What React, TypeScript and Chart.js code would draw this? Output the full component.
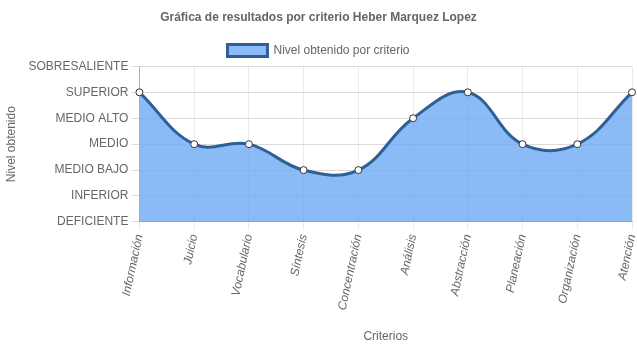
import React, { useEffect, useRef } from "react";
import { Chart, registerables } from "chart.js";

Chart.register(...registerables);

const categories = ["Información", "Juicio", "Vocabulario", "Síntesis", "Concentración", "Análisis", "Abstracción", "Planeación", "Organización", "Atención"];
const values = [5, 3, 3, 2, 2, 4, 5, 3, 3, 5];
const levelLabels = ["DEFICIENTE", "INFERIOR", "MEDIO BAJO", "MEDIO", "MEDIO ALTO", "SUPERIOR", "SOBRESALIENTE"];

export default function App() {
  const ref = useRef<HTMLCanvasElement>(null);
  useEffect(() => {
    if (!ref.current) return;
    const font = "'Liberation Sans', Arial, Helvetica, sans-serif";
    Chart.defaults.font.family = font;
    Chart.defaults.color = "#666";
    const chart = new Chart(ref.current, {
      type: "line",
      data: {
        labels: categories,
        datasets: [
          {
            label: "Nivel obtenido por criterio",
            data: values,
            fill: "origin",
            backgroundColor: "rgba(110,170,245,0.8)",
            borderColor: "#2f5f95",
            borderWidth: 3,
            tension: 0.4,
            pointRadius: 3.5,
            pointBackgroundColor: "#fff",
            pointBorderColor: "#333",
            pointBorderWidth: 1,
          },
        ],
      },
      options: {
        animation: false,
        responsive: false,
        layout: { padding: { left: 0, right: 0, top: 0, bottom: 0 } },
        plugins: {
          title: {
            display: true,
            text: "Gráfica de resultados por criterio Heber Marquez Lopez",
            font: { size: 12, weight: "bold" },
            color: "#666",
            padding: { top: 10, bottom: 10 },
          },
          legend: {
            display: true,
            labels: { boxWidth: 40, font: { size: 12 }, color: "#666" },
          },
          tooltip: { enabled: false },
        },
        scales: {
          x: {
            title: { display: true, text: "Criterios", font: { size: 12 }, color: "#666", padding: { top: 15, bottom: 4 } },
            ticks: { minRotation: 78, maxRotation: 78, font: { size: 12, style: "italic" }, color: "#666" },
            grid: { color: "rgba(0,0,0,0.08)", tickLength: 8 },
            border: { color: "rgba(0,0,0,0.25)" },
            afterFit: (s: any) => {
              s.paddingRight = 3;
            },
          },
          y: {
            min: 0,
            max: 6,
            title: { display: true, text: "Nivel obtenido", font: { size: 12 }, color: "#666", padding: { top: 4, bottom: 7 } },
            ticks: {
              stepSize: 1,
              font: { size: 12 },
              color: "#666",
              callback: (v: any) => levelLabels[v as number] ?? "",
            },
            grid: { color: "rgba(0,0,0,0.14)", tickLength: 8 },
            border: { color: "rgba(0,0,0,0.25)" },
          },
        },
      },
    });
    return () => chart.destroy();
  }, []);
  return (
    <div style={{ position: "fixed", left: 0, top: 0, width: 637, height: 348, background: "#fff" }}>
      <canvas ref={ref} width={637} height={348} />
    </div>
  );
}
